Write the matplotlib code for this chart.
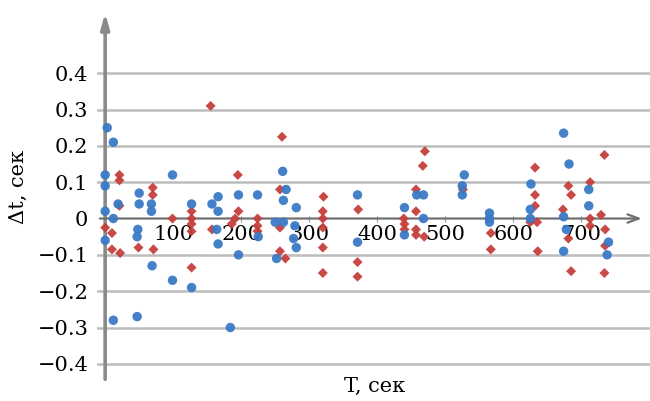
import matplotlib
matplotlib.use("Agg")
import matplotlib.pyplot as plt

plt.rcParams['font.family'] = ['DejaVu Serif']

blue_T = [3, 12, 0, 0, 0, 12, 0, 12,
          19, 50, 50, 48, 47, 47,
          68, 68, 69, 99, 99, 127, 127,
          157, 166, 166, 164, 166, 184,
          196, 196, 224, 225, 250, 252,
          261, 262, 266, 262, 279, 277, 281, 281,
          371, 371, 440, 440, 458, 468, 468,
          528, 525, 525,
          565, 565, 565,
          626, 625, 625,
          674, 682, 674, 678, 674,
          711, 711, 740, 738]
blue_dt = [0.25, 0.21, 0.12, 0.09, 0.02, 0.0, -0.06, -0.28,
           0.04, 0.07, 0.04, -0.03, -0.05, -0.27,
           0.04, 0.02, -0.13, 0.12, -0.17, 0.04, -0.19,
           0.04, 0.06, 0.02, -0.03, -0.07, -0.30,
           0.065, -0.10, 0.065, -0.05, -0.01, -0.11,
           0.13, 0.05, 0.08, -0.01, -0.02, -0.055, -0.08, 0.03,
           0.065, -0.065, 0.03, -0.045, 0.065, 0.065, 0.0,
           0.12, 0.09, 0.065,
           0.015, 0.0, -0.01,
           0.095, 0.025, 0.0,
           0.235, 0.15, 0.005, -0.03, -0.09,
           0.08, 0.035, -0.065, -0.10]

red_T = [155, 21, 21, 195, 70, 70, 21,
         99, 127, 127, 196, 191, 224,
         260, 257,
         0, 10, 10, 22, 49, 71,
         127, 127, 127, 157, 186,
         224, 224, 257, 257, 265,
         321, 320, 320, 320, 320, 320,
         372, 371, 371,
         470, 467, 457, 457, 439, 440, 440, 457, 457, 469,
         526,
         632, 632, 632, 625, 635, 636, 567, 567,
         734, 681, 685, 713, 673, 729, 713, 713, 681, 685, 734, 735, 735]
red_dt = [0.31, 0.12, 0.105, 0.12, 0.085, 0.065, 0.035,
          0.0, 0.02, 0.0, 0.02, 0.0, 0.0,
          0.225, 0.08,
          -0.025, -0.04, -0.085, -0.095, -0.08, -0.085,
          -0.135, -0.035, -0.015, -0.03, -0.015,
          -0.02, -0.035, -0.09, -0.025, -0.11,
          0.06, 0.02, 0.0, -0.025, -0.08, -0.15,
          0.025, -0.12, -0.16,
          0.185, 0.145, 0.08, 0.02, 0.0, -0.015, -0.03, -0.03, -0.045, -0.05,
          0.08,
          0.14, 0.065, 0.035, -0.01, -0.01, -0.09, -0.04, -0.085,
          0.175, 0.09, 0.065, 0.10, 0.025, 0.01, 0.0, -0.02, -0.055, -0.145, -0.15, -0.03, -0.075]

x_ticks = [100, 200, 300, 400, 500, 600, 700]
x_tick_labels = ["100", "200", "300", "400", "500", "600", "700"]
y_ticks = [-0.4, -0.3, -0.2, -0.1, 0.0, 0.1, 0.2, 0.3, 0.4]
y_tick_labels = ["\u22120.4", "\u22120.3", "\u22120.2", "\u22120.1", "0", "0.1", "0.2", "0.3", "0.4"]

x_label = "T, сек"
y_label = "\u0394t, сек"

W, H = 650, 401
fig = plt.figure(figsize=(W / 100, H / 100), dpi=100)
ax = fig.add_axes([97 / W, 1 - 382 / H, 1 - 97 / W, (382 - 10) / H])

xmin, xmax = -12, 801
ymin, ymax = -0.45, 0.574
ax.set_xlim(xmin, xmax)
ax.set_ylim(ymin, ymax)

# grid
for yt in y_ticks:
    if yt != 0:
        ax.axhline(yt, color="#bdbdbd", lw=1.8, zorder=0)

BLUE = "#3b7ac6"
RED = "#c63f3c"
ax.scatter(red_T, red_dt, marker="D", s=26, color=RED, edgecolors="none", zorder=3, alpha=0.95)
ax.scatter(blue_T, blue_dt, marker="o", s=46, color=BLUE, edgecolors="none", zorder=4, alpha=0.95)

for s in ax.spines.values():
    s.set_visible(False)
ax.spines['left'].set_position(('data', 0))
ax.spines['bottom'].set_position(('data', 0))

# axes lines with arrows
ax.annotate("", xy=(0, ymax), xytext=(0, ymin),
            arrowprops=dict(arrowstyle="-|>,head_length=0.9,head_width=0.25", color="#8a8a8a", lw=2.6),
            zorder=2, annotation_clip=False)
ax.annotate("", xy=(xmax - 8, 0), xytext=(xmin, 0),
            arrowprops=dict(arrowstyle="->,head_length=0.8,head_width=0.3", color="#707070", lw=1.6),
            zorder=2, annotation_clip=False)

ax.set_xticks(x_ticks)
ax.set_xticklabels(x_tick_labels, fontsize=15)
ax.tick_params(axis="x", direction="inout", length=5, color="#999999", pad=2)
ax.set_yticks(y_ticks)
ax.set_yticklabels(y_tick_labels, fontsize=15)
ax.tick_params(axis="y", length=0, pad=12)
for lbl in ax.get_xticklabels():
    lbl.set_zorder(5)

fig.text(375 / W, 1 - 386 / H, x_label, fontsize=15, ha="center", va="center")
fig.text(18 / W, 1 - 187 / H, y_label, fontsize=15, ha="center", va="center", rotation=90)

fig.savefig("out.png", dpi=100)
